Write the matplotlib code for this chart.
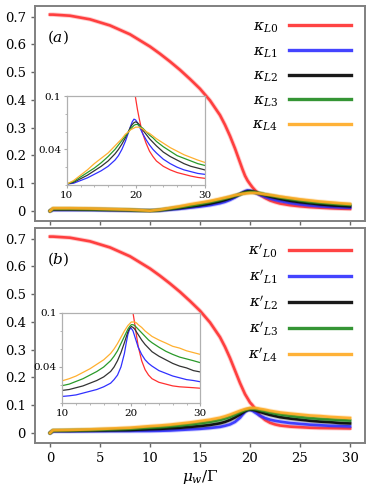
import matplotlib
matplotlib.use('Agg')
import matplotlib.pyplot as plt
from matplotlib.ticker import MultipleLocator

# chemical potential grid (mu_w / Gamma)
mu = [0, 0.3, 2, 4, 6, 8, 10, 11, 12, 13, 14, 15, 16, 17, 17.5, 18, 18.5, 19,
      19.25, 19.5, 19.75, 20, 20.25, 20.5, 20.75, 21, 21.5, 22, 22.5, 23, 24,
      25, 26, 27, 28, 29, 30]

# panel (a): kappa_L
a_L0 = [0.707, 0.707, 0.703, 0.690, 0.668, 0.636, 0.592, 0.566, 0.538, 0.508,
        0.475, 0.44, 0.398, 0.345, 0.31, 0.27, 0.225, 0.175, 0.15, 0.127, 0.11,
        0.097, 0.085, 0.075, 0.066, 0.058, 0.047, 0.038, 0.032, 0.027, 0.021,
        0.017, 0.014, 0.012, 0.010, 0.0085, 0.0075]
a_L1 = [0.0, 0.004, 0.004, 0.004, 0.003, 0.002, 0.001, 0.002, 0.005, 0.008,
        0.012, 0.016, 0.021, 0.028, 0.033, 0.040, 0.049, 0.060, 0.066, 0.071,
        0.074, 0.073, 0.070, 0.066, 0.062, 0.058, 0.051, 0.045, 0.040, 0.036,
        0.029, 0.024, 0.020, 0.017, 0.015, 0.013, 0.012]
a_L2 = [0.0, 0.006, 0.006, 0.005, 0.004, 0.003, 0.001, 0.003, 0.007, 0.011,
        0.016, 0.021, 0.027, 0.035, 0.040, 0.046, 0.053, 0.061, 0.065, 0.068,
        0.070, 0.071, 0.070, 0.068, 0.065, 0.062, 0.057, 0.052, 0.048, 0.044,
        0.037, 0.032, 0.028, 0.024, 0.021, 0.019, 0.017]
a_L3 = [0.0, 0.008, 0.008, 0.007, 0.006, 0.004, 0.001, 0.004, 0.009, 0.014,
        0.019, 0.025, 0.032, 0.040, 0.045, 0.050, 0.055, 0.060, 0.063, 0.065,
        0.067, 0.068, 0.068, 0.067, 0.065, 0.064, 0.060, 0.056, 0.053, 0.049,
        0.043, 0.038, 0.033, 0.030, 0.027, 0.024, 0.022]
a_L4 = [0.0, 0.010, 0.010, 0.009, 0.007, 0.005, 0.001, 0.005, 0.011, 0.017,
        0.024, 0.030, 0.036, 0.044, 0.048, 0.052, 0.057, 0.060, 0.062, 0.063,
        0.064, 0.065, 0.065, 0.065, 0.064, 0.063, 0.060, 0.058, 0.055, 0.052,
        0.047, 0.042, 0.038, 0.034, 0.031, 0.028, 0.0254]

# panel (b): kappa'_L
b_L0 = [0.707, 0.707, 0.703, 0.690, 0.668, 0.636, 0.592, 0.566, 0.538, 0.508,
        0.475, 0.44, 0.398, 0.345, 0.31, 0.27, 0.225, 0.18, 0.16, 0.14, 0.125,
        0.11, 0.10, 0.088, 0.075, 0.063, 0.047, 0.037, 0.031, 0.027, 0.023,
        0.021, 0.019, 0.018, 0.0175, 0.017, 0.0164]
b_L1 = [0.0, 0.006, 0.006, 0.0065, 0.007, 0.007, 0.0073, 0.008, 0.009, 0.011,
        0.013, 0.015, 0.018, 0.022, 0.026, 0.031, 0.040, 0.055, 0.066, 0.076,
        0.082, 0.083, 0.080, 0.074, 0.068, 0.062, 0.054, 0.048, 0.044, 0.041,
        0.036, 0.033, 0.030, 0.028, 0.026, 0.025, 0.0236]
b_L2 = [0.0, 0.008, 0.008, 0.009, 0.010, 0.011, 0.014, 0.015, 0.017, 0.019,
        0.022, 0.025, 0.029, 0.035, 0.040, 0.047, 0.056, 0.067, 0.073, 0.079,
        0.083, 0.085, 0.084, 0.082, 0.079, 0.076, 0.070, 0.065, 0.061, 0.057,
        0.052, 0.048, 0.044, 0.041, 0.039, 0.036, 0.0345]
b_L3 = [0.0, 0.009, 0.010, 0.011, 0.013, 0.015, 0.0193, 0.021, 0.024, 0.027,
        0.031, 0.035, 0.040, 0.047, 0.052, 0.058, 0.066, 0.074, 0.078, 0.082,
        0.085, 0.087, 0.087, 0.086, 0.084, 0.082, 0.078, 0.074, 0.070, 0.067,
        0.062, 0.0575, 0.054, 0.051, 0.049, 0.047, 0.0448]
b_L4 = [0.0, 0.010, 0.011, 0.013, 0.016, 0.019, 0.0247, 0.027, 0.030, 0.034,
        0.038, 0.043, 0.048, 0.055, 0.060, 0.066, 0.073, 0.080, 0.083, 0.086,
        0.088, 0.090, 0.090, 0.090, 0.089, 0.087, 0.084, 0.080, 0.077, 0.074,
        0.070, 0.0666, 0.063, 0.061, 0.058, 0.056, 0.054]

colors = ['#ff3030', '#3030ff', '#000000', '#1f8a1f', '#ffaa22']
inset_colors = ['#ff3030', '#3030ff', '#333333', '#2a9a2a', '#ffb030']

plt.rcParams['font.family'] = 'DejaVu Serif'
plt.rcParams['mathtext.fontset'] = 'dejavuserif'

fig = plt.figure(figsize=(3.9, 4.88), dpi=100)
ax_a = fig.add_axes([35 / 390, 1 - 221 / 488, 330 / 390, 215 / 488])
ax_b = fig.add_axes([35 / 390, 1 - 443 / 488, 330 / 390, 215 / 488])

panels = [
    (ax_a, [a_L0, a_L1, a_L2, a_L3, a_L4], r'$\kappa_{L\mathit{%d}}$', 'a',
     [66.7 / 390, 1 - 185 / 488, 138 / 390, 89 / 488], 0.6),
    (ax_b, [b_L0, b_L1, b_L2, b_L3, b_L4], r"$\kappa'_{L\mathit{%d}}$", 'b',
     [62.3 / 390, 1 - 403 / 488, 138 / 390, 90 / 488], 0.5),
]

for ax, series, lab, tag, inset_pos, spacing in panels:
    for i, ys in enumerate(series):
        ax.plot(mu, ys, color=colors[i], lw=3.2, alpha=0.25, solid_capstyle='round')
        ax.plot(mu, ys, color=colors[i], lw=1.9, alpha=0.9, label=lab % i)
    ax.set_xlim(-1.5, 31.5)
    ax.set_ylim(-0.036, 0.738)
    ax.set_xticks([0, 5, 10, 15, 20, 25, 30])
    ax.set_yticks([0, 0.1, 0.2, 0.3, 0.4, 0.5, 0.6, 0.7])
    ax.set_yticklabels(['0', '0.1', '0.2', '0.3', '0.4', '0.5', '0.6', '0.7'])
    ax.tick_params(labelsize=9.5, length=3, color='#666666', width=1)
    for s in ax.spines.values():
        s.set_color('#808080')
        s.set_linewidth(1.4)
    ax.text(0.035, 0.835, r'$(%s)$' % tag, transform=ax.transAxes, fontsize=11)
    leg = ax.legend(loc='upper right', markerfirst=False, frameon=False,
                    fontsize=11, handlelength=4.1, labelspacing=spacing,
                    handletextpad=0.7, borderaxespad=0.5)
    for h in leg.get_lines():
        h.set_linewidth(2.4)

    ins = fig.add_axes(inset_pos)
    for i, ys in enumerate(series):
        ins.plot(mu, ys, color=inset_colors[i], lw=0.9)
    ins.set_xlim(10, 30)
    ins.set_ylim(0, 0.1)
    ins.set_xticks([10, 20, 30])
    ins.set_yticks([0.04, 0.1])
    ins.set_yticklabels(['0.04', '0.1'])
    ins.xaxis.set_minor_locator(MultipleLocator(2))
    ins.yaxis.set_minor_locator(MultipleLocator(0.02))
    ins.tick_params(labelsize=7.5, length=2.5, color='#aaaaaa', pad=1.5)
    ins.tick_params(which='minor', length=1.5, color='#aaaaaa')
    ins.set_facecolor('white')
    for s in ins.spines.values():
        s.set_color('#b0b0b0')
        s.set_linewidth(0.9)

ax_a.set_xticklabels([])
ax_b.set_xlabel(r'$\mu_w/\Gamma$', fontsize=11, labelpad=2)

fig.savefig('out.png', dpi=100)
